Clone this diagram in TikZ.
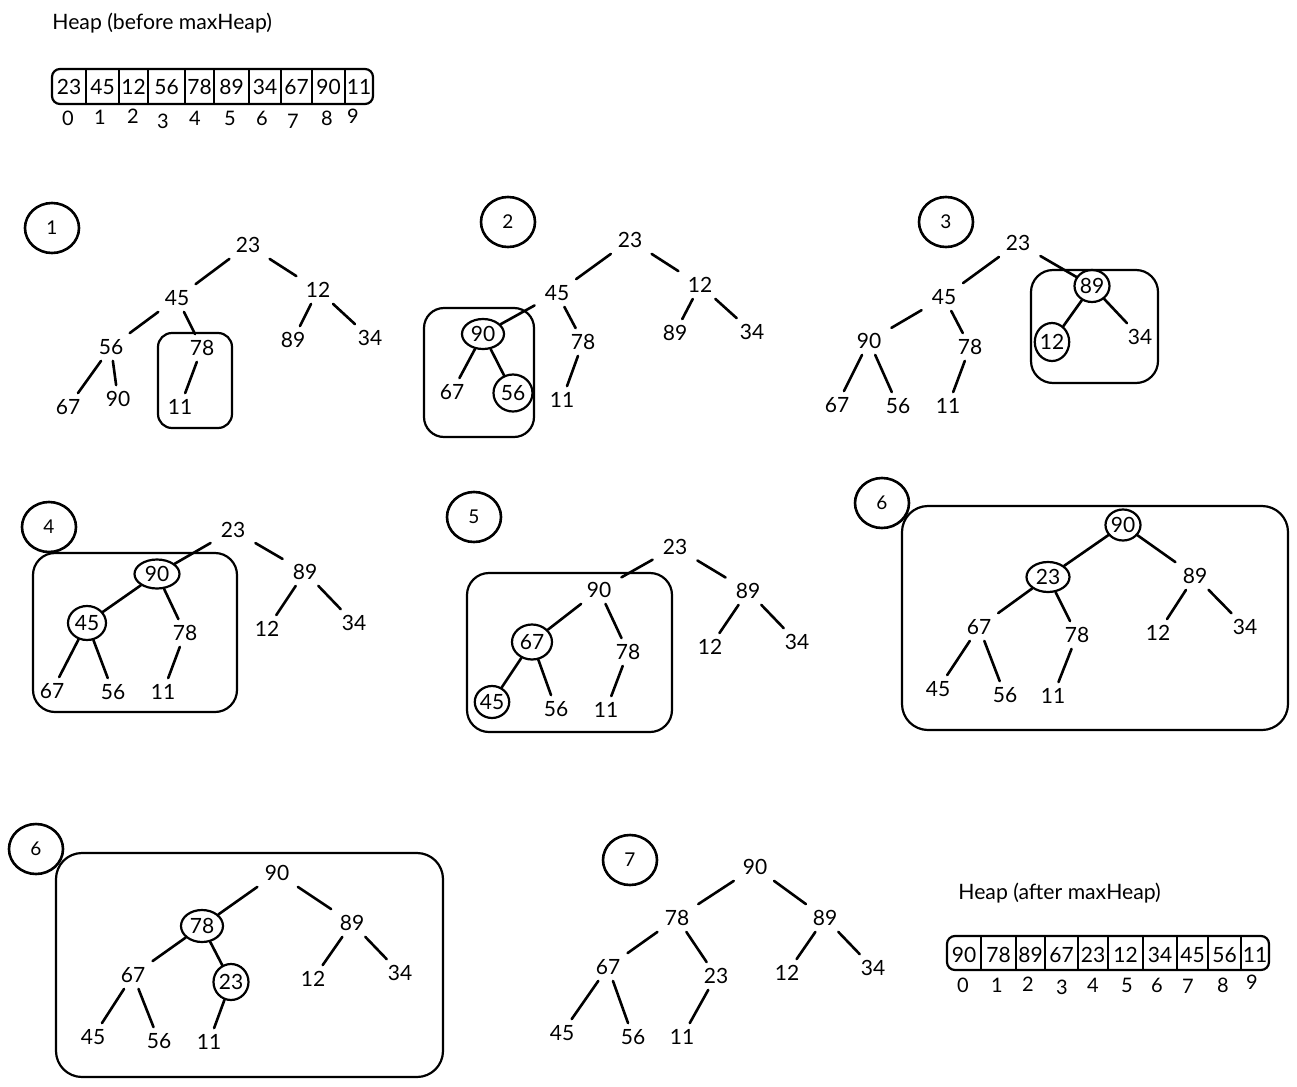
\documentclass[tikz,border=0pt]{standalone}
\usepackage{fontspec}
\setmainfont{Lato}
\usetikzlibrary{shapes.geometric}
\begin{document}
\begin{tikzpicture}[x=0.5pt,y=-0.5pt,
  num/.style={rectangle, inner sep=0pt, minimum width=22pt, minimum height=13.5pt, font=\fontsize{10.5}{12}\selectfont},
  hl/.style 2 args={ellipse, draw, line width=1.1pt, minimum width=#1, minimum height=#2},
  edge/.style={line width=1.3pt, line cap=round},
  grp/.style={draw, line width=1.1pt, rounded corners=#1},
  grp/.default=10pt,
  stepc/.style={ellipse, draw, line width=1.3pt, minimum width=27pt, minimum height=25pt, inner sep=0pt, font=\fontsize{9.5}{11}\selectfont},
  lbl/.style={font=\fontsize{10.6}{12}\selectfont, inner sep=0pt},
  cell/.style={font=\fontsize{10.5}{12}\selectfont, inner sep=0pt},
  idx/.style={font=\fontsize{10}{11}\selectfont, inner sep=0pt},
]
\useasboundingbox (0,0) rectangle (1297,1087);

% ---------- top array ----------
\node[lbl, anchor=west] (title1) at (52,23) {Heap (before maxHeap)};
\draw[line width=1.1pt, rounded corners=4pt] (52,69) rectangle (373,104);
\foreach \x in {86,119,148,185,214,249,281,312,345}
  \draw[line width=1pt] (\x,69) -- (\x,104);
\foreach \x/\v [count=\i] in {69/23,102.5/45,133.5/12,166.5/56,199.5/78,231.5/89,265/34,296.5/67,328.5/90,359/11}
  \node[cell] (ca\i) at (\x,87) {\v};
\foreach \x/\y/\v [count=\i] in {68/118/0,100/117/1,133/116/2,163/121/3,195/118/4,230/118/5,262/118/6,293/121/7,327/118/8,353/116/9}
  \node[idx] (ia\i) at (\x,\y) {\v};

% ---------- step circles ----------
\node[stepc] (s1) at (52,228) {1};
\node[stepc] (s2) at (508,222) {2};
\node[stepc] (s3) at (946,222) {3};
\node[stepc] (s4) at (49,527) {4};
\node[stepc] (s5) at (474,517) {5};
\node[stepc] (s6) at (882,503) {6};
\node[stepc] (s6b) at (36,849) {6};
\node[stepc] (s7) at (630,860) {7};

% ---------- tree 1 ----------
\draw[grp=7pt] (158,333) rectangle (232,428);
\node[num] (t1a) at (248,245) {23};
\node[num] (t1b) at (177,298) {45};
\node[num] (t1c) at (318,290) {12};
\node[num] (t1d) at (111,347) {56};
\node[num] (t1e) at (202,348) {78};
\node[num] (t1f) at (293,340) {89};
\node[num] (t1g) at (370,338) {34};
\node[num] (t1h) at (68,407) {67};
\node[num] (t1i) at (118,399) {90};
\node[num] (t1j) at (180,407) {11};

% ---------- tree 2 ----------
\draw[grp=10pt] (424,308) rectangle (534,437);
\node[num] (t2a) at (630,240) {23};
\node[num] (t2b) at (557,293) {45};
\node[num] (t2c) at (700,285) {12};
\node[num, hl={21pt}{15pt}] (t2d) at (483,334) {90};
\node[num] (t2e) at (583,342) {78};
\node[num] (t2f) at (675,333) {89};
\node[num] (t2g) at (752,332) {34};
\node[num] (t2h) at (452,392) {67};
\node[num, hl={19.5pt}{18.5pt}] (t2i) at (513,393) {56};
\node[num] (t2j) at (562,400) {11};

% ---------- tree 3 ----------
\draw[grp=11pt] (1031,270) rectangle (1158,383);
\node[num] (t3a) at (1018,243) {23};
\node[num] (t3b) at (944,297) {45};
\node[num, hl={17.5pt}{16pt}] (t3c) at (1092,286) {89};
\node[num] (t3d) at (869,341) {90};
\node[num] (t3e) at (970,347) {78};
\node[num, hl={17pt}{19pt}] (t3f) at (1052,342) {12};
\node[num] (t3g) at (1140,337) {34};
\node[num] (t3h) at (837,405) {67};
\node[num] (t3i) at (898,406) {56};
\node[num] (t3j) at (948,406) {11};

% ---------- tree 4 ----------
\draw[grp=11pt] (33,553) rectangle (237,712);
\node[num] (t4a) at (233,530) {23};
\node[num, hl={22.5pt}{14.5pt}] (t4b) at (157,574) {90};
\node[num] (t4c) at (305,572) {89};
\node[num, hl={19pt}{17pt}] (t4d) at (87,623) {45};
\node[num] (t4e) at (185,633) {78};
\node[num] (t4f) at (267,629) {12};
\node[num] (t4g) at (354,623) {34};
\node[num] (t4h) at (52,691) {67};
\node[num] (t4i) at (113,692) {56};
\node[num] (t4j) at (163,692) {11};

% ---------- tree 5 ----------
\draw[grp=11pt] (467,573) rectangle (672,732);
\node[num] (t5a) at (675,547) {23};
\node[num] (t5b) at (599,590) {90};
\node[num] (t5c) at (748,591) {89};
\node[num, hl={20pt}{17.5pt}] (t5d) at (532,642) {67};
\node[num] (t5e) at (628,652) {78};
\node[num] (t5f) at (710,647) {12};
\node[num] (t5g) at (797,642) {34};
\node[num, hl={17pt}{16pt}] (t5h) at (492,702) {45};
\node[num] (t5i) at (556,709) {56};
\node[num] (t5j) at (606,710) {11};

% ---------- tree 6 ----------
\draw[grp=13pt] (902,506) rectangle (1288,730);
\node[num, hl={17.5pt}{15.5pt}] (t6a) at (1123,525) {90};
\node[num, hl={21.5pt}{15pt}] (t6b) at (1048,577) {23};
\node[num] (t6c) at (1195,576) {89};
\node[num] (t6d) at (979,627) {67};
\node[num] (t6e) at (1077,635) {78};
\node[num] (t6f) at (1158,633) {12};
\node[num] (t6g) at (1245,627) {34};
\node[num] (t6h) at (938,689) {45};
\node[num] (t6i) at (1005,695) {56};
\node[num] (t6j) at (1053,696) {11};

% ---------- tree 6 (second) ----------
\draw[grp=13pt] (56,853) rectangle (443,1077);
\node[num] (t7a) at (277,873) {90};
\node[num, hl={21pt}{16pt}] (t7b) at (202,926) {78};
\node[num] (t7c) at (352,923) {89};
\node[num] (t7d) at (133,975) {67};
\node[num, hl={17.5pt}{18pt}] (t7e) at (231,982) {23};
\node[num] (t7f) at (313,979) {12};
\node[num] (t7g) at (400,973) {34};
\node[num] (t7h) at (93,1037) {45};
\node[num] (t7i) at (159,1041) {56};
\node[num] (t7j) at (209,1042) {11};

% ---------- tree 7 ----------
\node[num] (t8a) at (755,867) {90};
\node[num] (t8b) at (677,918) {78};
\node[num] (t8c) at (825,918) {89};
\node[num] (t8d) at (608,967) {67};
\node[num] (t8e) at (716,976) {23};
\node[num] (t8f) at (787,973) {12};
\node[num] (t8g) at (873,968) {34};
\node[num] (t8h) at (562,1033) {45};
\node[num] (t8i) at (633,1037) {56};
\node[num] (t8j) at (682,1037) {11};

% ---------- edges ----------
\foreach \t in {1,...,8}{
  \foreach \u/\v in {a/b,a/c,b/d,b/e,c/f,c/g,d/h,d/i,e/j}
    \draw[edge] (t\t\u) -- (t\t\v);
}

% ---------- bottom array ----------
\node[lbl, anchor=west] (title2) at (958,893) {Heap (after maxHeap)};
\draw[line width=1.1pt, rounded corners=4pt] (947,936) rectangle (1269,970);
\foreach \x in {981,1016,1045,1078,1108,1143,1177,1208,1241}
  \draw[line width=1pt] (\x,936) -- (\x,970);
\foreach \x/\v [count=\i] in {964/90,998.5/78,1030.5/89,1061.5/67,1093/23,1125.5/12,1160/34,1192.5/45,1224.5/56,1255/11}
  \node[cell] (cb\i) at (\x,955) {\v};
\foreach \x/\y/\v [count=\i] in {963/985/0,997/985/1,1028/984/2,1062/987/3,1093/985/4,1127/985/5,1157/985/6,1188/986/7,1223/985/8,1252/982/9}
  \node[idx] (ib\i) at (\x,\y) {\v};
\end{tikzpicture}
\end{document}
